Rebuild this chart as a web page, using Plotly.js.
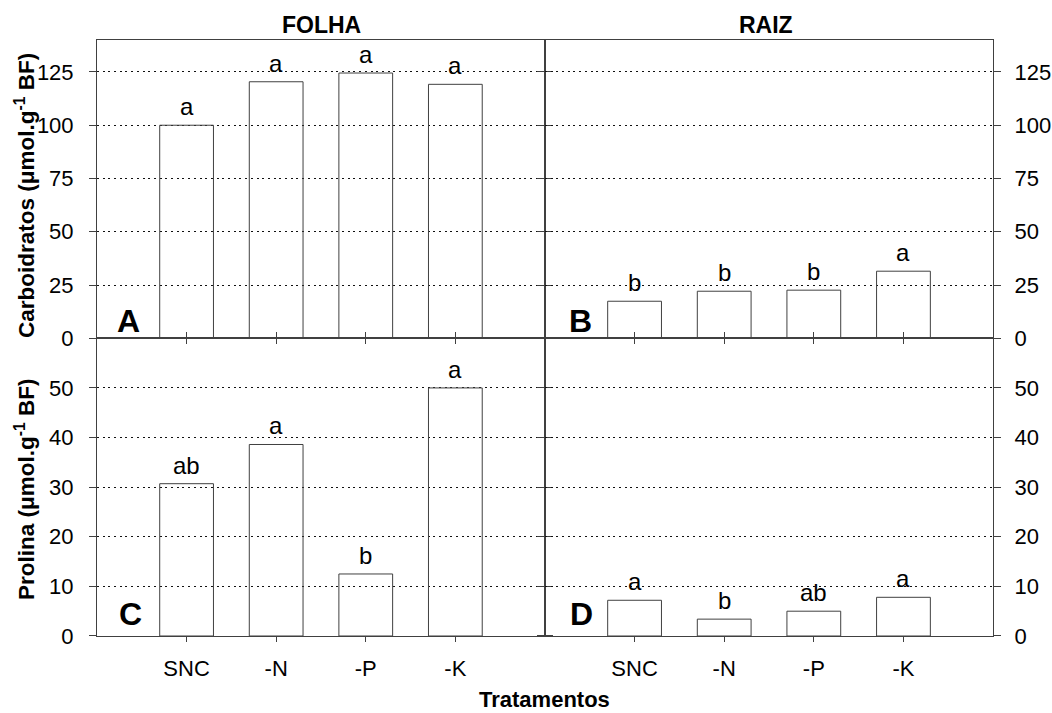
<!DOCTYPE html>
<html>
<head>
<meta charset="utf-8">
<script src="https://cdn.plot.ly/plotly-3.0.1.min.js"></script>
<style>
  html, body { margin: 0; padding: 0; background: #fff; }
  #chart { width: 1052px; height: 713px; }
</style>
</head>
<body>
<div id="chart"></div>
<script>
// Treatments
const categories = ['SNC', '-N', '-P', '-K'];

// Carbohydrates (µmol.g-1 BF)
const carbFolha = [100, 120.4, 124.5, 119.2];
const carbRaiz = [17.4, 22.1, 22.6, 31.5];
// Proline (µmol.g-1 BF)
const prolFolha = [30.7, 38.6, 12.5, 50];
const prolRaiz = [7.2, 3.4, 5.0, 7.8];

// Mean-separation letters
const lettersCarbFolha = ['a', 'a', 'a', 'a'];
const lettersCarbRaiz = ['b', 'b', 'b', 'a'];
const lettersProlFolha = ['ab', 'a', 'b', 'a'];
const lettersProlRaiz = ['a', 'b', 'ab', 'a'];

const carbTicks = [0, 25, 50, 75, 100, 125];
const prolTicks = [0, 10, 20, 30, 40, 50];

const FONT = 'Liberation Sans, Arial, sans-serif';
const LINE = '#404040';

function barTrace(y, xa, ya) {
  return {
    type: 'bar',
    x: categories,
    y: y,
    xaxis: xa,
    yaxis: ya,
    marker: { color: 'rgba(255,255,255,0)', line: { color: LINE, width: 1 } },
    hoverinfo: 'x+y',
    showlegend: false
  };
}

const data = [
  barTrace(carbFolha, 'x', 'y'),
  barTrace(carbRaiz, 'x2', 'y2'),
  barTrace(prolFolha, 'x3', 'y3'),
  barTrace(prolRaiz, 'x4', 'y4')
];

const xLeft = [0.0922, 0.518];
const xRight = [0.518, 0.944];
const yTop = [0.5255, 0.9439];
const yBot = [0.108, 0.5255];

function xAxis(domain, anchor, bottom) {
  return {
    domain: domain,
    anchor: anchor,
    type: 'category',
    range: [-1, 4],
    showline: true,
    linecolor: LINE,
    linewidth: 1,
    mirror: bottom ? 'ticks' : true,
    ticks: 'outside',
    ticklen: 5,
    tickcolor: LINE,
    showgrid: false,
    zeroline: false,
    showticklabels: bottom,
    ticklabelstandoff: 8,
    tickfont: { family: FONT, size: 22, color: '#000' },
    fixedrange: true
  };
}

function yAxis(domain, anchor, side, range, ticks) {
  return {
    domain: domain,
    anchor: anchor,
    side: side,
    range: range,
    tickvals: ticks,
    ticktext: ticks.map(String),
    showline: true,
    linecolor: LINE,
    linewidth: 1,
    mirror: 'ticks',
    ticks: 'outside',
    ticklen: 7,
    tickcolor: LINE,
    showgrid: true,
    gridcolor: '#111',
    gridwidth: 1,
    griddash: '2px,3.7px',
    zeroline: false,
    ticklabelstandoff: side === 'left' ? 11 : 9,
    tickfont: { family: FONT, size: 22, color: '#000' },
    fixedrange: true
  };
}

const annText = (text, x, y, size, extra) => Object.assign({
  text: text, x: x, y: y, xref: 'paper', yref: 'paper',
  showarrow: false, xanchor: 'center', yanchor: 'middle',
  font: { family: FONT, size: size, color: '#000' }
}, extra || {});

// Letters placed just above each bar, at the bar's own value
function letterAnns(values, letters, xa, ya) {
  return values.map((v, i) => ({
    text: letters[i], x: categories[i], y: v, xref: xa, yref: ya,
    showarrow: false, xanchor: 'center', yanchor: 'bottom', yshift: 3,
    font: { family: FONT, size: 24, color: '#000' }
  }));
}

const annotations = [
  annText('<b>FOLHA</b>', 0.306, 1 - 25 / 713, 23),
  annText('<b>RAIZ</b>', 0.728, 1 - 25 / 713, 23),
  annText('<b>Tratamentos</b>', 0.518, 1 - 699 / 713, 22),
  annText('<b>Carboidratos (μmol.g<sup>-1</sup> BF)</b>', 25 / 1052, 1 - 196 / 713, 22.5, { textangle: -90 }),
  annText('<b>Prolina (μmol.g<sup>-1</sup> BF)</b>', 25 / 1052, 1 - 489 / 713, 22.5, { textangle: -90 }),
  annText('<b>A</b>', 128 / 1052, 1 - 321 / 713, 32),
  annText('<b>B</b>', 580 / 1052, 1 - 321 / 713, 32),
  annText('<b>C</b>', 130 / 1052, 1 - 614 / 713, 32),
  annText('<b>D</b>', 581 / 1052, 1 - 614 / 713, 32)
].concat(
  letterAnns(carbFolha, lettersCarbFolha, 'x', 'y'),
  letterAnns(carbRaiz, lettersCarbRaiz, 'x2', 'y2'),
  letterAnns(prolFolha, lettersProlFolha, 'x3', 'y3'),
  letterAnns(prolRaiz, lettersProlRaiz, 'x4', 'y4')
);

const layout = {
  width: 1052,
  height: 713,
  margin: { l: 0, r: 0, t: 0, b: 0 },
  paper_bgcolor: '#fff',
  plot_bgcolor: 'rgba(0,0,0,0)',
  bargap: 0.4,
  showlegend: false,
  font: { family: FONT, color: '#000' },
  xaxis: xAxis(xLeft, 'y', false),
  xaxis2: xAxis(xRight, 'y2', false),
  xaxis3: xAxis(xLeft, 'y3', true),
  xaxis4: xAxis(xRight, 'y4', true),
  yaxis: yAxis(yTop, 'x', 'left', [0, 140], carbTicks),
  yaxis2: yAxis(yTop, 'x2', 'right', [0, 140], carbTicks),
  yaxis3: yAxis(yBot, 'x3', 'left', [0, 60], prolTicks),
  yaxis4: yAxis(yBot, 'x4', 'right', [0, 60], prolTicks),
  annotations: annotations
};

Plotly.newPlot('chart', data, layout, { displayModeBar: false, staticPlot: true });
</script>
</body>
</html>
